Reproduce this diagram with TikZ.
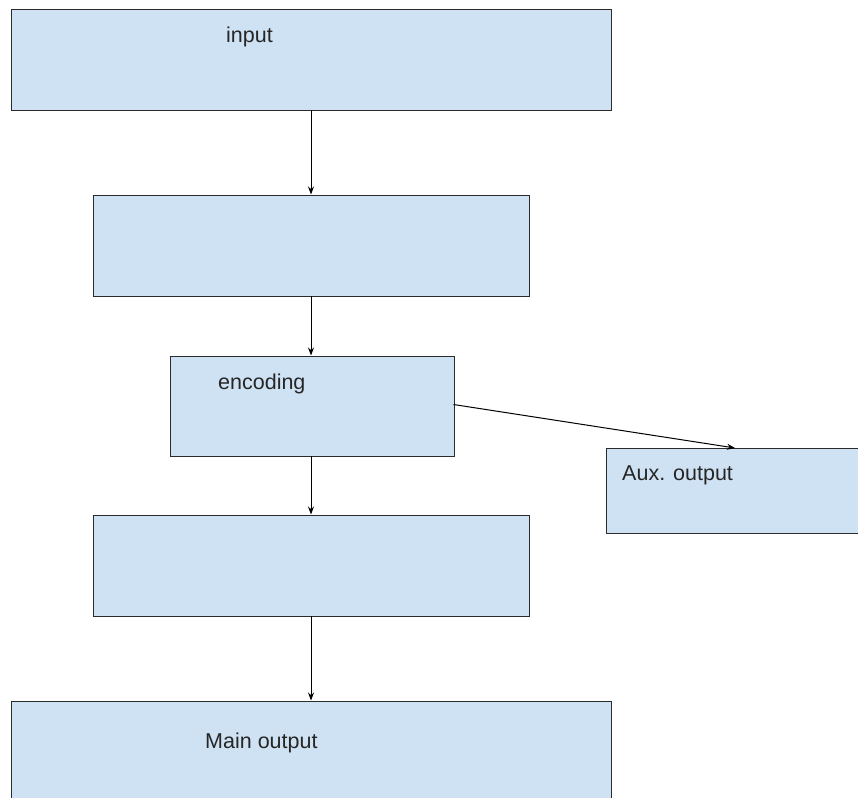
\documentclass[tikz,border=0pt]{standalone}
\usepackage{fontspec}
\setmainfont{Liberation Sans}
\usetikzlibrary{arrows.meta}
\definecolor{boxfill}{HTML}{CFE2F3}
\definecolor{boxline}{HTML}{2B2B2B}
\tikzset{
  box/.style={draw=boxline, fill=boxfill, line width=1.4pt, rectangle, inner sep=0pt, anchor=north west},
  lbl/.style={anchor=base west, inner sep=0pt, text=black!85, font=\fontsize{21.5}{26}\selectfont},
  conn/.style={draw=black, line width=1pt, -{Stealth[length=8pt,width=6pt]}}
}
\begin{document}
\begin{tikzpicture}[x=1pt,y=-1pt]
\useasboundingbox (0,0) rectangle (858,797);
\node[box, minimum width=600pt, minimum height=101pt] (in) at (11,9) {};
\node[box, minimum width=436pt, minimum height=101pt] (b2) at (93,194.5) {};
\node[box, minimum width=284pt, minimum height=100pt] (enc) at (169.5,355.5) {};
\node[box, minimum width=300pt, minimum height=84.5pt] (aux) at (605.5,448) {};
\node[box, minimum width=436pt, minimum height=101pt] (b4) at (93,514.5) {};
\node[box, minimum width=600pt, minimum height=150pt] (mo) at (11,700.5) {};
\node[lbl] (tin) at (226,43) {input};
\node[lbl] (tenc) at (218,389) {encoding};
\node[lbl] (taux) at (622,480) {Aux. output};
\node[lbl] (tmo) at (205,748) {Main output};
\coordinate (p1) at (311,110);
\coordinate (p2) at (311,194.5);
\coordinate (p3) at (311,295.5);
\coordinate (p4) at (311,355.5);
\coordinate (p5) at (311,455.5);
\coordinate (p6) at (311,514.5);
\coordinate (p7) at (311,615.5);
\coordinate (p8) at (311,700.5);
\coordinate (q1) at (453.5,404.5);
\coordinate (q2) at (735,448);
\draw[conn] (p1) -- (p2);
\draw[conn] (p3) -- (p4);
\draw[conn] (p5) -- (p6);
\draw[conn] (p7) -- (p8);
\draw[conn] (q1) -- (q2);
\end{tikzpicture}
\end{document}
